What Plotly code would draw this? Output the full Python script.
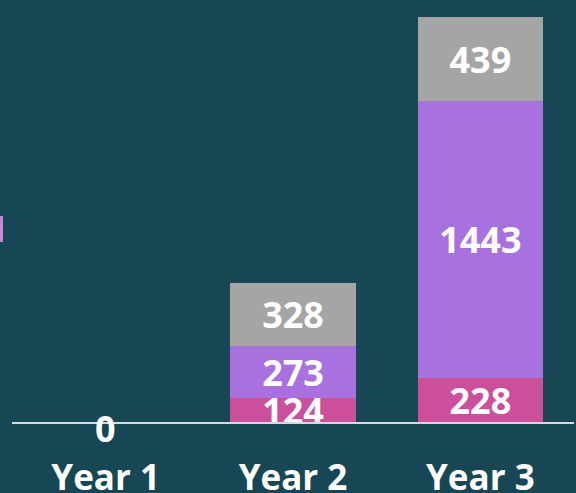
import plotly.graph_objects as go

categories = ["Year 1", "Year 2", "Year 3"]
series_bottom = [0, 124, 228]
series_middle = [0, 273, 1443]
series_top = [0, 328, 439]

colors = ["#CC4F9B", "#A970E0", "#A5A5A5"]
BG = "#174654"

def labels(vals):
    return [str(v) if v != 0 else "" for v in vals]

fig = go.Figure()
for vals, col in [(series_bottom, colors[0]), (series_middle, colors[1]), (series_top, colors[2])]:
    fig.add_trace(go.Bar(
        x=categories, y=vals, marker=dict(color=col, line=dict(width=0)),
        text=labels(vals), textposition="inside", insidetextanchor="middle",
        constraintext="none", cliponaxis=False,
        textfont=dict(family="Open Sans", size=36, color="white", weight="bold"),
        hoverinfo="skip",
    ))

fig.add_annotation(x=categories[0], y=series_bottom[0], text=str(series_bottom[0]),
                   showarrow=False, yshift=-6,
                   font=dict(family="Open Sans", size=36, color="white", weight="bold"))

fig.add_shape(type="rect", xref="paper", yref="paper", x0=-0.03, x1=-0.016, y0=0.4265, y1=0.488,
              fillcolor="#C58AD6", line=dict(width=0), layer="above")

fig.update_layout(
    barmode="stack", bargap=0.33,
    width=576, height=493,
    paper_bgcolor=BG, plot_bgcolor=BG,
    margin=dict(l=12, r=2, t=0, b=71),
    showlegend=False,
    xaxis=dict(showline=True, linecolor="#D9D9D9", linewidth=2, ticks="",
               tickfont=dict(family="Open Sans", size=35, color="white", weight="bold"),
               ticklabelstandoff=24, showgrid=False, automargin=False),
    yaxis=dict(range=[0, 2200], visible=False, showgrid=False, zeroline=False, automargin=False),
)

fig.write_html("out.html", config={"displayModeBar": False, "staticPlot": True},
               post_script="document.body.style.margin='0';document.body.style.background='%s';" % BG)
